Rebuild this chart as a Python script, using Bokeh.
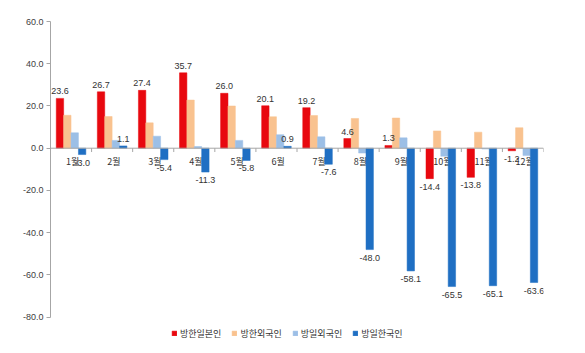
from bokeh.plotting import figure
from bokeh.models import ColumnDataSource, FactorRange, Range1d, Legend, LegendItem, Span, FixedTicker, NumeralTickFormatter
from bokeh.transform import dodge
from bokeh.core.properties import value
from bokeh.embed import file_html
from bokeh.resources import INLINE

months = ["1월", "2월", "3월", "4월", "5월", "6월", "7월", "8월", "9월", "10월", "11월", "12월"]
series_names = ["방한일본인", "방한외국인", "방일외국인", "방일한국인"]
jp_to_kr = [23.6, 26.7, 27.4, 35.7, 26.0, 20.1, 19.2, 4.6, 1.3, -14.4, -13.8, -1.2]
fg_to_kr = [15.6, 15.0, 12.0, 22.8, 20.0, 14.9, 15.5, 14.1, 14.3, 8.2, 7.6, 9.7]
fg_to_jp = [7.3, 3.7, 5.7, 0.8, 3.7, 6.4, 5.4, -2.3, 4.9, -3.8, -0.4, -3.5]
kr_to_jp = [-3.0, 1.1, -5.4, -11.3, -5.8, 0.9, -7.6, -48.0, -58.1, -65.5, -65.1, -63.6]
y_ticks = [-80, -60, -40, -20, 0, 20, 40, 60]

colors = ["#E8080F", "#F9C28F", "#9CBFE6", "#1F6FC3"]
offsets = [-0.27, -0.09, 0.09, 0.27]
bar_w = 0.18

src = ColumnDataSource(dict(month=months, s0=jp_to_kr, s1=fg_to_kr, s2=fg_to_jp, s3=kr_to_jp))

# frame spans y=21..353 px; -80 sits at ~317 px, the extra room below holds the legend
p = figure(width=585, height=353, x_range=FactorRange(*months, range_padding=0),
           y_range=Range1d(-97.2, 60), x_axis_location=None,
           min_border_left=50, min_border_right=42, min_border_top=21, min_border_bottom=0,
           output_backend="svg", toolbar_location=None)
p.outline_line_color = None
p.grid.visible = False
p.background_fill_color = "white"

ya = p.yaxis[0]
ya.ticker = FixedTicker(ticks=y_ticks)
ya.bounds = (-80, 60)
ya.formatter = NumeralTickFormatter(format="0.0")
ya.axis_line_color = "#A6A6A6"
ya.major_tick_line_color = "#A6A6A6"
ya.major_tick_out = 4
ya.major_tick_in = 0
ya.minor_tick_line_color = None
ya.major_label_text_font = "Liberation Sans"
ya.major_label_text_font_size = "9px"
ya.major_label_text_color = "#404040"
ya.major_label_standoff = 3

# zero line and category separators
p.add_layout(Span(location=0, dimension="width", line_color="#A6A6A6", line_width=1))
sep = ColumnDataSource(dict(month=months, y0=[0] * 12, y1=[-1.8] * 12))
p.segment(x0=dodge("month", 0.5, range=p.x_range), y0="y0",
          x1=dodge("month", 0.5, range=p.x_range), y1="y1",
          source=sep, line_color="#A6A6A6", line_width=1)

# month labels under the zero line
msrc = ColumnDataSource(dict(month=months, y=[0] * 12))
p.text(x=dodge("month", 0.04, range=p.x_range), y="y", text="month", source=msrc,
       text_font=value("Noto Sans CJK KR"), text_font_size="9px", text_color="#333333",
       text_align="center", text_baseline="top", y_offset=7)

renderers = []
for i, name in enumerate(series_names):
    r = p.vbar(x=dodge("month", offsets[i], range=p.x_range), top=f"s{i}", bottom=0,
               width=bar_w, source=src, fill_color=colors[i], line_color=colors[i], line_width=0.5)
    renderers.append(r)

def label_source(vals):
    return ColumnDataSource(dict(
        month=months, y=vals, t=[f"{v:.1f}" for v in vals],
        base=["bottom" if v >= 0 else "top" for v in vals],
        yo=[-4 if v >= 0 else 5 for v in vals]))

for vals, off in ((jp_to_kr, offsets[0]), (kr_to_jp, offsets[3])):
    ls = label_source(vals)
    p.text(x=dodge("month", off, range=p.x_range), y="y", text="t", source=ls,
           text_font=value("Liberation Sans"), text_font_size="9px", text_color="#333333",
           text_align="center", text_baseline="base", y_offset="yo")

legend = Legend(items=[LegendItem(label=n, renderers=[r]) for n, r in zip(series_names, renderers)],
                orientation="horizontal", location=(121, 12),
                glyph_width=6, glyph_height=6, label_text_font="Noto Sans CJK KR",
                label_text_font_size="9px", label_text_color="#333333", label_height=16,
                label_standoff=3, spacing=10, padding=4, margin=0,
                border_line_color=None, background_fill_alpha=0)
p.add_layout(legend, "center")

open("out.html", "w").write(file_html(p, INLINE))
